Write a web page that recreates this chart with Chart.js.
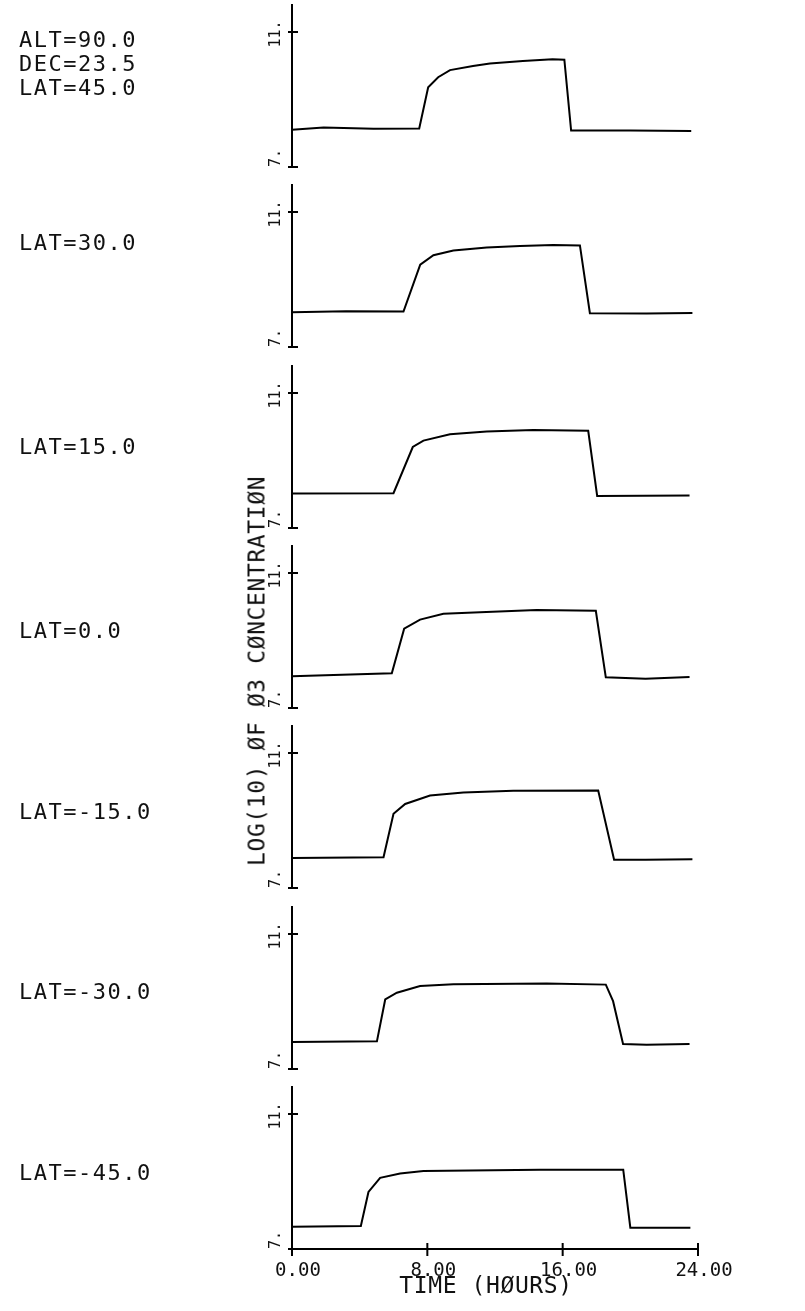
<!DOCTYPE html>
<html><head><meta charset="utf-8">
<script src="https://cdn.jsdelivr.net/npm/chart.js@4/dist/chart.umd.min.js"></script>
<style>
html,body{margin:0;padding:0;background:#fff;}
#wrap{position:relative;width:805px;height:1311px;overflow:hidden;background:#fff;}
canvas{position:absolute;left:0;}
.lbl{position:absolute;font-family:"DejaVu Sans Mono",monospace;font-size:22px;color:#111;white-space:nowrap;line-height:22px;letter-spacing:1.5px;}
.ttl{position:absolute;font-family:"DejaVu Sans Mono",monospace;font-size:23px;color:#111;white-space:nowrap;line-height:23px;letter-spacing:0.6px;}
</style></head><body><div id="wrap"></div>
<script>
// ---- data ----
const headerLines = ["ALT=90.0", "DEC=23.5"];
const panelLabels = ["LAT=45.0", "LAT=30.0", "LAT=15.0", "LAT=0.0", "LAT=-15.0", "LAT=-30.0", "LAT=-45.0"];
const xTicks = [0, 8, 16, 24];
const yTicks = [7, 11];
const yTickLabels = ["7.", "11."];
const xTitle = "TIME (HØURS)";
const yTitle = "LOG(10) ØF Ø3 CØNCENTRATIØN";

const hoursLat45 = [0, 1.87, 4.82, 7.52, 8.05, 8.64, 9.34, 10.7, 11.7, 13.65, 15.4, 16.1, 16.5, 20.0, 23.6];
const o3Lat45    = [8.10, 8.17, 8.13, 8.14, 9.36, 9.66, 9.87, 9.99, 10.07, 10.14, 10.19, 10.18, 8.08, 8.08, 8.07];

const hoursLat30 = [0, 3.2, 6.59, 7.58, 8.36, 9.54, 11.51, 13.48, 15.44, 17.02, 17.61, 20.96, 23.67];
const o3Lat30    = [8.03, 8.06, 8.05, 9.44, 9.72, 9.86, 9.95, 9.99, 10.02, 10.01, 8.00, 7.99, 8.01];

const hoursLat15 = [0, 6.0, 7.14, 7.77, 9.34, 11.51, 14.26, 17.51, 18.04, 23.5];
const o3Lat15    = [8.02, 8.03, 9.40, 9.59, 9.78, 9.86, 9.90, 9.88, 7.95, 7.96];

const hoursLat0  = [0, 5.9, 6.63, 7.57, 8.95, 11.12, 14.46, 17.96, 18.55, 20.9, 23.5];
const o3Lat0     = [7.94, 8.03, 9.35, 9.62, 9.79, 9.84, 9.90, 9.88, 7.91, 7.87, 7.92];

const hoursLatM15 = [0, 5.41, 6.0, 6.69, 8.16, 10.13, 13.08, 18.1, 19.04, 20.9, 23.67];
const o3LatM15    = [7.89, 7.91, 9.20, 9.49, 9.74, 9.83, 9.88, 9.89, 7.84, 7.84, 7.85];

const hoursLatM30 = [0, 5.02, 5.51, 6.2, 7.57, 9.54, 15.05, 18.55, 18.98, 19.57, 20.96, 23.5];
const o3LatM30    = [7.80, 7.82, 9.06, 9.26, 9.46, 9.51, 9.53, 9.50, 9.01, 7.74, 7.72, 7.74];

const hoursLatM45 = [0, 4.07, 4.52, 5.21, 6.39, 7.77, 14.66, 19.58, 20.0, 23.55];
const o3LatM45    = [7.66, 7.68, 8.69, 9.11, 9.24, 9.31, 9.35, 9.35, 7.63, 7.63];

const panelHours = [hoursLat45, hoursLat30, hoursLat15, hoursLat0, hoursLatM15, hoursLatM30, hoursLatM45];
const panelO3    = [o3Lat45, o3Lat30, o3Lat15, o3Lat0, o3LatM15, o3LatM30, o3LatM45];

// ---- layout ----
const W = 805, H = 1311;
const AREA_LEFT = 292, AREA_RIGHT = 698;
const AREA_H = 162;          // from 7 up to the axis top
const FIRST_BOTTOM = 167, PANEL_STEP = 180.33;
const labelCenters = [88, 243, 447, 631, 812, 992, 1173];
const headerCenters = [40, 64];

const wrap = document.getElementById('wrap');
const MONO = '"DejaVu Sans Mono", monospace';

const tickPlugin = {
  id: 'plotterTicks',
  afterDraw(chart) {
    const ctx = chart.ctx, ca = chart.chartArea;
    const ys = chart.scales.y, xs = chart.scales.x;
    ctx.save();
    ctx.strokeStyle = '#000';
    ctx.lineWidth = 2;
    ctx.fillStyle = '#111';
    ctx.font = '15px ' + MONO;
    yTicks.forEach((v, i) => {
      const py = ys.getPixelForValue(v);
      ctx.beginPath();
      ctx.moveTo(ca.left - 4, py);
      ctx.lineTo(ca.left + 6, py);
      ctx.stroke();
      ctx.save();
      ctx.translate(ca.left - 12, v === 7 ? py : py + 2);
      ctx.rotate(-Math.PI / 2);
      ctx.textAlign = v === 7 ? 'left' : 'center';
      ctx.textBaseline = 'alphabetic';
      ctx.fillText(yTickLabels[i], 0, 0);
      ctx.restore();
    });
    if (chart.options.scales.x.display) {
      xTicks.forEach(v => {
        const px = xs.getPixelForValue(v);
        ctx.beginPath();
        ctx.moveTo(px, ca.bottom - 6);
        ctx.lineTo(px, ca.bottom + 7);
        ctx.stroke();
      });
    }
    ctx.restore();
  }
};

panelHours.forEach((hrs, k) => {
  const last = k === panelHours.length - 1;
  const bottom = Math.round(FIRST_BOTTOM + PANEL_STEP * k);
  const top = bottom - AREA_H - 5;
  const canvasH = last ? (H - top) : (AREA_H + 10);
  const cv = document.createElement('canvas');
  cv.width = W; cv.height = canvasH;
  cv.style.width = W + 'px'; cv.style.height = canvasH + 'px';
  cv.style.top = top + 'px';
  wrap.appendChild(cv);
  const xAxisH = last ? 30 : 0;
  const padBottom = last ? (canvasH - 5 - AREA_H - xAxisH) : 5;
  new Chart(cv.getContext('2d'), {
    type: 'line',
    data: {
      datasets: [{
        data: hrs.map((h, i) => ({ x: h, y: panelO3[k][i] })),
        borderColor: '#000',
        borderWidth: 2,
        pointRadius: 0,
        tension: 0,
        fill: false
      }]
    },
    options: {
      responsive: false,
      animation: false,
      devicePixelRatio: 1,
      layout: { padding: { left: AREA_LEFT, right: W - AREA_RIGHT, top: 5, bottom: padBottom } },
      plugins: { legend: { display: false }, tooltip: { enabled: false } },
      scales: {
        x: {
          type: 'linear', min: 0, max: 24, display: last,
          afterBuildTicks: s => { s.ticks = xTicks.map(v => ({ value: v })); },
          afterFit: s => { s.height = xAxisH; },
          ticks: {
            callback: v => Number(v).toFixed(2),
            font: { family: MONO, size: 19 },
            color: '#111', padding: 11, maxRotation: 0, minRotation: 0,
            labelOffset: 6, autoSkip: false
          },
          grid: { display: true, drawOnChartArea: false, drawTicks: false },
          border: { display: true, color: '#000', width: 2 }
        },
        y: {
          type: 'linear', min: 7, max: 11.8,
          afterBuildTicks: s => { s.ticks = yTicks.map(v => ({ value: v })); },
          afterFit: s => { s.width = 0; },
          ticks: { display: false },
          grid: { display: true, drawOnChartArea: false, drawTicks: false },
          border: { display: true, color: '#000', width: 2 }
        }
      }
    },
    plugins: [tickPlugin]
  });
});

function addText(cls, text, left, top, extra) {
  const d = document.createElement('div');
  d.className = cls;
  d.textContent = text;
  d.style.left = left + 'px';
  d.style.top = top + 'px';
  if (extra) Object.assign(d.style, extra);
  wrap.appendChild(d);
  return d;
}
headerLines.forEach((t, i) => addText('lbl', t, 19, headerCenters[i] - 11));
panelLabels.forEach((t, i) => addText('lbl', t, 19, labelCenters[i] - 11));
addText('ttl', xTitle, 486, 1274, { transform: 'translateX(-50%)' });
addText('ttl', yTitle, 257, 671, { transform: 'translate(-50%,-50%) rotate(-90deg)' });
</script>
</body></html>
